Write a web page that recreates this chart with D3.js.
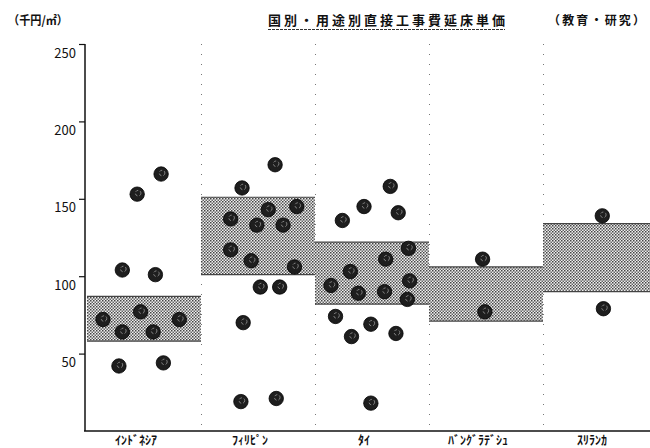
<!DOCTYPE html>
<html>
<head>
<meta charset="utf-8">
<script src="https://cdn.jsdelivr.net/npm/d3@7"></script>
<style>
    body { margin: 0; background: #fff; }
    text { font-family: "Noto Sans CJK JP", "Noto Sans", sans-serif; fill: #111; }
</style>
</head>
<body>
<script>
    // categories (half-width katakana like the original print)
    const countries = ["ｲﾝﾄﾞﾈｼｱ", "ﾌｨﾘﾋﾟﾝ", "ﾀｲ", "ﾊﾞﾝｸﾞﾗﾃﾞｼｭ", "ｽﾘﾗﾝｶ"];

    // shaded range per country (千円/㎡)
    const rangeLow = [58, 101, 82, 71, 90];
    const rangeHigh = [87, 151, 122, 106, 134];

    // individual projects, value per country
    const values = [
        [166, 153, 104, 101, 72, 77, 64, 64, 72, 42, 44],
        [172, 157, 143, 145, 137, 133, 133, 117, 110, 106, 93, 93, 70, 19, 21],
        [158, 145, 141, 136, 118, 111, 103, 97, 94, 89, 90, 85, 74, 69, 61, 63, 18],
        [111, 77],
        [139, 79]
    ];
    // horizontal place of each dot inside its country column (0..1)
    const jitter = [
        [0.65, 0.44, 0.31, 0.60, 0.14, 0.47, 0.31, 0.58, 0.81, 0.28, 0.67],
        [0.65, 0.36, 0.59, 0.84, 0.26, 0.49, 0.72, 0.26, 0.44, 0.82, 0.52, 0.69, 0.37, 0.35, 0.66],
        [0.66, 0.43, 0.73, 0.24, 0.82, 0.62, 0.31, 0.83, 0.14, 0.38, 0.61, 0.81, 0.18, 0.49, 0.32, 0.71, 0.49],
        [0.47, 0.49],
        [0.52, 0.53]
    ];

    const yTicks = [50, 100, 150, 200, 250];

    let svg = d3.select("body")
        .append("svg")
        .attr("width", 650)
        .attr("height", 448);

    // stipple pattern for the ranges
    let defs = svg.append("defs");
    let pat = defs.append("pattern")
        .attr("id", "stipple")
        .attr("width", 3)
        .attr("height", 3)
        .attr("patternUnits", "userSpaceOnUse");
    pat.append("rect").attr("width", 3).attr("height", 3).attr("fill", "#efefef");
    pat.append("rect").attr("width", 1.5).attr("height", 1.5).attr("fill", "#444");
    pat.append("rect").attr("x", 1.5).attr("y", 1.5).attr("width", 1.5).attr("height", 1.5).attr("fill", "#666");

    let x = d3.scaleBand()
        .domain(countries)
        .range([87, 657])
        .padding(0);

    let y = d3.scaleLinear()
        .domain([0, 250])
        .range([431, 44]);

    // titles
    svg.append("text")
        .attr("x", 8)
        .attr("y", 25)
        .attr("font-size", 12)
        .attr("font-weight", "bold")
        .attr("textLength", 60)
        .attr("lengthAdjust", "spacingAndGlyphs")
        .text("（千円/㎡）");

    svg.append("text")
        .attr("x", 268)
        .attr("y", 25)
        .attr("font-size", 13)
        .attr("font-weight", "bold")
        .attr("textLength", 237)
        .attr("lengthAdjust", "spacing")
        .text("国別・用途別直接工事費延床単価");

    svg.append("line")
        .attr("x1", 268).attr("x2", 505)
        .attr("y1", 29.5).attr("y2", 29.5)
        .attr("stroke", "#333")
        .attr("stroke-width", 1)
        .attr("stroke-dasharray", "3,1");

    svg.append("text")
        .attr("x", 548)
        .attr("y", 25)
        .attr("font-size", 12)
        .attr("font-weight", "bold")
        .attr("textLength", 97)
        .attr("lengthAdjust", "spacing")
        .text("（教育・研究）");

    // dotted column separators
    countries.slice(1).forEach((c) => {
        svg.append("line")
            .attr("x1", x(c) + 0.5).attr("x2", x(c) + 0.5)
            .attr("y1", 44).attr("y2", 428)
            .attr("stroke", "#777")
            .attr("stroke-width", 1)
            .attr("stroke-dasharray", "1,9");
    });

    // shaded ranges
    svg.selectAll(".range")
        .data(countries)
        .enter()
        .append("rect")
        .attr("class", "range")
        .attr("x", (d) => x(d))
        .attr("width", x.bandwidth())
        .attr("y", (d, i) => y(rangeHigh[i]))
        .attr("height", (d, i) => y(rangeLow[i]) - y(rangeHigh[i]))
        .attr("fill", "url(#stipple)");

    // darker edges top and bottom
    countries.forEach((c, i) => {
        [rangeHigh[i], rangeLow[i]].forEach((v) => {
            svg.append("line")
                .attr("x1", x(c)).attr("x2", x(c) + x.bandwidth())
                .attr("y1", y(v)).attr("y2", y(v))
                .attr("stroke", "#444")
                .attr("stroke-width", 1.2);
        });
    });

    // dots
    countries.forEach((c, i) => {
        let pts = values[i].map((v, j) => ({ v: v, f: jitter[i][j] }));
        let g = svg.append("g");
        g.selectAll("circle.dot")
            .data(pts)
            .enter()
            .append("circle")
            .attr("class", "dot")
            .attr("cx", (d) => x(c) + d.f * x.bandwidth())
            .attr("cy", (d) => y(d.v))
            .attr("r", 7.2)
            .attr("fill", "#1e1e1e")
            .attr("stroke", "#000")
            .attr("stroke-width", 0.8);
        g.selectAll("circle.mark")
            .data(pts)
            .enter()
            .append("circle")
            .attr("class", "mark")
            .attr("cx", (d) => x(c) + d.f * x.bandwidth() + 1)
            .attr("cy", (d) => y(d.v) - 1)
            .attr("r", 2.8)
            .attr("fill", "none")
            .attr("stroke", "#8a8a8a")
            .attr("stroke-width", 0.9)
            .attr("stroke-dasharray", "3,2");
    });

    // y axis
    let yAxis = d3.axisLeft(y)
        .tickValues(yTicks)
        .tickSize(6)
        .tickSizeOuter(0);

    let ga = svg.append("g")
        .attr("transform", "translate(85, 0)")
        .call(yAxis);
    ga.select(".domain")
        .attr("stroke", "#111")
        .attr("stroke-width", 1.5)
        .attr("d", "M0," + y(250) + "V" + y(0));
    ga.selectAll(".tick line").attr("stroke", "#111").attr("stroke-width", 1.2);
    ga.selectAll(".tick text")
        .attr("y", 9)
        .attr("font-size", 13)
        .attr("font-family", "'Liberation Sans', Arial, sans-serif")
        .attr("fill", "#111");

    // bottom line
    svg.append("line")
        .attr("x1", 84).attr("x2", 650)
        .attr("y1", y(0)).attr("y2", y(0))
        .attr("stroke", "#111")
        .attr("stroke-width", 1.5);

    // category labels
    svg.selectAll(".clabel")
        .data(countries)
        .enter()
        .append("text")
        .attr("class", "clabel")
        .attr("x", (d) => x(d) + x.bandwidth() / 2 - 8)
        .attr("y", 445)
        .attr("text-anchor", "middle")
        .attr("font-size", 12)
        .attr("font-weight", "bold")
        .text((d) => d);
</script>
</body>
</html>
